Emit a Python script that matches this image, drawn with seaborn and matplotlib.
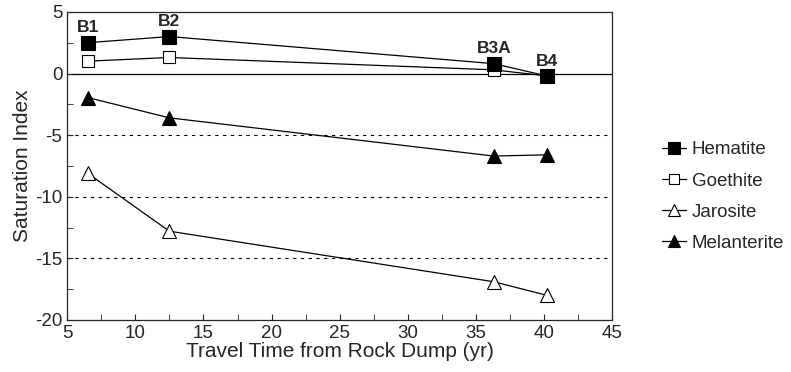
import numpy as np
import pandas as pd
import matplotlib
matplotlib.use("Agg")
import matplotlib.pyplot as plt
import seaborn as sns
from matplotlib.ticker import MultipleLocator

sites = ["B1", "B2", "B3A", "B4"]
travel_time = [6.5, 12.5, 36.3, 40.2]
hematite = [2.5, 3.0, 0.8, -0.2]
goethite = [1.0, 1.3, 0.3, -0.2]
jarosite = [-8.1, -12.8, -16.9, -18.0]
melanterite = [-1.95, -3.6, -6.7, -6.6]

minerals = ["Hematite", "Goethite", "Jarosite", "Melanterite"]
values = [hematite, goethite, jarosite, melanterite]

df = pd.DataFrame({
    "time": travel_time * 4,
    "si": sum(values, []),
    "mineral": np.repeat(minerals, 4),
})

sns.set_style("ticks")
plt.rcParams["font.family"] = ["Liberation Sans", "DejaVu Sans"]
plt.rcParams["axes.unicode_minus"] = False

fig = plt.figure(figsize=(7.91, 3.72), dpi=100)
ax = fig.add_axes([0.085, 0.14, 0.689, 0.828])

styles = {
    "Hematite": dict(marker="s", markerfacecolor="black", markersize=10, zorder=4),
    "Goethite": dict(marker="s", markerfacecolor="white", markersize=9, zorder=3),
    "Jarosite": dict(marker="^", markerfacecolor="white", markersize=10, zorder=3),
    "Melanterite": dict(marker="^", markerfacecolor="black", markersize=10, zorder=3),
}
for m in minerals:
    sub = df[df["mineral"] == m]
    sns.lineplot(data=sub, x="time", y="si", ax=ax, color="black", linewidth=0.9,
                 markeredgecolor="black", markeredgewidth=0.8, label=m, **styles[m])

for y in [-5, -10, -15]:
    ax.axhline(y, color="black", linestyle=(0, (3, 4)), linewidth=0.8, zorder=0)
ax.axhline(0, color="black", linewidth=0.9, zorder=0)

for s, x, y in zip(sites, travel_time, hematite):
    ax.text(x, y + 0.6, s, ha="center", va="bottom", fontsize=12.5, fontweight="bold")

ax.set_xlim(5, 45)
ax.set_ylim(-20, 5)
ax.xaxis.set_major_locator(MultipleLocator(5))
ax.xaxis.set_minor_locator(MultipleLocator(2.5))
ax.yaxis.set_major_locator(MultipleLocator(5))
ax.yaxis.set_minor_locator(MultipleLocator(2.5))
ax.tick_params(axis="both", which="both", direction="in", length=4, labelsize=13.5)
for sp in ax.spines.values():
    sp.set_linewidth(0.9)

ax.set_xlabel("Travel Time from Rock Dump (yr)", fontsize=15, labelpad=0)
ax.set_ylabel("Saturation Index", fontsize=15, labelpad=2)

ax.legend(loc="center left", bbox_to_anchor=(1.06, 0.40), frameon=False, fontsize=13.5,
          handlelength=1.3, labelspacing=0.75, handletextpad=0.3, markerscale=0.85)

fig.savefig("out.png", dpi=100)
